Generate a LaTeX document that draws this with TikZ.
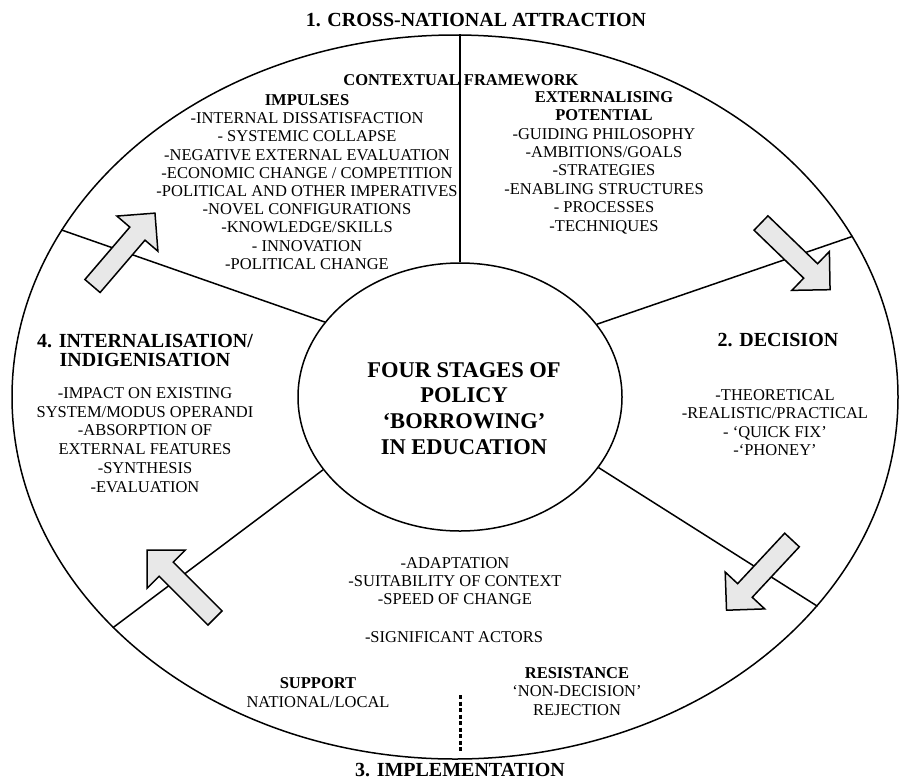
\documentclass[tikz,border=0pt]{standalone}
\usepackage{fontspec}
\setmainfont{Liberation Serif}
\usetikzlibrary{shapes.geometric}
\newcommand{\blockarr}[3]{%
  \begin{scope}[shift={(#1,#2)}, rotate=#3]
    \draw[blockarrow] (0,-10) -- (69,-10) -- (69,-27) -- (96,0) -- (69,27) -- (69,10) -- (0,10) -- cycle;
  \end{scope}}
\begin{document}
\begin{tikzpicture}[x=1pt,y=-1pt,
  stage/.style={font=\bfseries\fontsize{20}{19}\selectfont, align=center, inner sep=0pt},
  body/.style={font=\fontsize{16.5}{18.2}\selectfont, align=center, inner sep=0pt},
  ring/.style={draw, ellipse, line width=1.5pt, inner sep=0pt},
  divider/.style={line width=1.5pt},
  blockarrow/.style={draw, line width=1.5pt, fill=black!9, line join=miter},
  dotline/.style={line width=3pt, dash pattern=on 4pt off 2.5pt}
]
\path[fill=white, use as bounding box] (0,0) rectangle (899,780);

% rings
\node[ring, minimum width=886pt, minimum height=724pt] (outer) at (455,397) {};
\node[ring, minimum width=324pt, minimum height=268pt] (inner) at (460,397) {};

% dividers
\draw[divider] (inner.north) -- (inner.north |- outer.north);
\draw[divider] (outer.157.1) -- (inner.151.5);
\draw[divider] (outer.22.3) -- (inner.28.5);
\draw[divider] (outer.-30.3) -- (inner.-27.8);
\draw[divider] (outer.214.2) -- (inner.208.5);

% block arrows
\blockarr{92.5}{286}{49.4}
\blockarr{761}{223}{-44}
\blockarr{792}{540}{-133}
\blockarr{215}{618}{135}

% texts
\node[stage] (t1) at (476,20) {1. CROSS-NATIONAL ATTRACTION};
\node[body, font=\bfseries\fontsize{16.5}{18}\selectfont] (cf) at (461,80) {CONTEXTUAL FRAMEWORK};
\node[body] (imp) at (307,182) {\textbf{IMPULSES}\\-INTERNAL DISSATISFACTION\\- SYSTEMIC COLLAPSE\\-NEGATIVE EXTERNAL EVALUATION\\-ECONOMIC CHANGE / COMPETITION\\-POLITICAL AND OTHER IMPERATIVES\\-NOVEL CONFIGURATIONS\\-KNOWLEDGE/SKILLS\\- INNOVATION\\-POLITICAL CHANGE};
\node[body, font=\fontsize{16.5}{18.4}\selectfont] (ext) at (604,162.5) {\textbf{EXTERNALISING}\\\textbf{POTENTIAL}\\-GUIDING PHILOSOPHY\\-AMBITIONS/GOALS\\-STRATEGIES\\-ENABLING STRUCTURES\\- PROCESSES\\-TECHNIQUES};

\node[stage] (t2) at (778,340) {2. DECISION};
\node[body, font=\fontsize{16.5}{18.3}\selectfont] (dec) at (775,422.5) {-THEORETICAL\\-REALISTIC/PRACTICAL\\- `QUICK FIX'\\-`PHONEY'};

\node[stage] (t4) at (145,350) {4. INTERNALISATION/\\INDIGENISATION};
\node[body, font=\fontsize{16.5}{18.7}\selectfont] (ind) at (145,440) {-IMPACT ON EXISTING\\SYSTEM/MODUS OPERANDI\\-ABSORPTION OF\\EXTERNAL FEATURES\\-SYNTHESIS\\-EVALUATION};

\node[body, font=\bfseries\fontsize{22.5}{25.7}\selectfont] (centre) at (464,408.5) {FOUR STAGES OF\\POLICY\\`BORROWING'\\IN EDUCATION};

\node[body, font=\fontsize{16.5}{18}\selectfont] (impl) at (455,581) {-ADAPTATION\\-SUITABILITY OF CONTEXT\\-SPEED OF CHANGE};
\node[body] (actors) at (454,637) {-SIGNIFICANT ACTORS};
\node[body, font=\fontsize{16.5}{19}\selectfont] (sup) at (318,692.5) {\textbf{SUPPORT}\\NATIONAL/LOCAL};
\node[body, font=\fontsize{16.5}{18.5}\selectfont] (res) at (577,691.5) {\textbf{RESISTANCE}\\`NON-DECISION'\\REJECTION};

\coordinate (d1) at (460,695);
\coordinate (d2) at (460,753);
\draw[dotline] (d1) -- (d2);

\node[stage] (t3) at (460,770) {3. IMPLEMENTATION};
\end{tikzpicture}
\end{document}
